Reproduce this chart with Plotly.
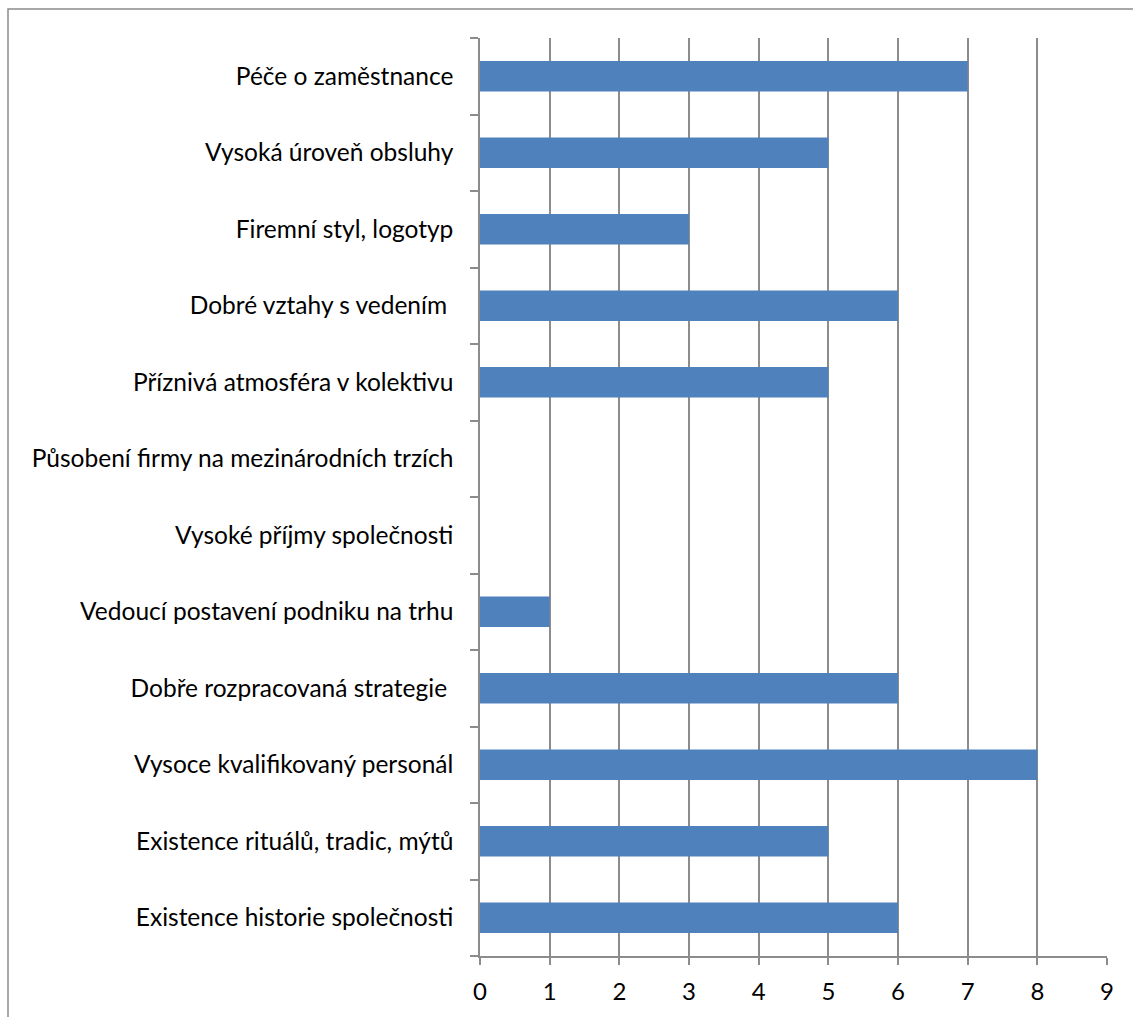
import plotly.graph_objects as go

# Categories listed bottom to top, as they appear along the y-axis
categories = [
    "Existence historie společnosti",
    "Existence rituálů, tradic, mýtů",
    "Vysoce kvalifikovaný personál",
    "Dobře rozpracovaná strategie\u00a0",
    "Vedoucí postavení podniku na trhu",
    "Vysoké příjmy společnosti",
    "Působení firmy na mezinárodních trzích",
    "Příznivá atmosféra v kolektivu",
    "Dobré vztahy s vedením\u00a0",
    "Firemní styl, logotyp",
    "Vysoká úroveň obsluhy",
    "Péče o zaměstnance",
]
counts = [6, 5, 8, 6, 1, 0, 0, 5, 6, 3, 5, 7]
x_ticks = list(range(0, 10))

W, H = 1133, 1017
ML, MR, MT, MB = 480, 26, 38, 59
FONT = "Lato"
GRID = "#8c8c8c"

fig = go.Figure(
    go.Bar(
        x=counts,
        y=categories,
        orientation="h",
        marker=dict(color="#4f81bd", line=dict(width=0)),
        width=0.4,
        hoverinfo="x+y",
    )
)

fig.update_xaxes(
    range=[0, 9],
    tickvals=x_ticks,
    ticktext=[str(v) for v in x_ticks],
    showgrid=True,
    gridcolor=GRID,
    gridwidth=1.5,
    zeroline=False,
    showline=True,
    linecolor=GRID,
    linewidth=1.5,
    ticks="outside",
    ticklen=7,
    tickwidth=1.5,
    tickcolor=GRID,
    tickfont=dict(family=FONT, size=24, color="#000000"),
    ticklabelstandoff=6,
)
fig.update_yaxes(
    type="category",
    categoryorder="array",
    categoryarray=categories,
    tickson="boundaries",
    showgrid=False,
    zeroline=False,
    showline=True,
    linecolor=GRID,
    linewidth=1.5,
    ticks="outside",
    ticklen=8,
    tickwidth=1.5,
    tickcolor=GRID,
    tickfont=dict(family=FONT, size=24.5, color="#000000"),
    ticklabelstandoff=20,
)

# Outer chart border (its right and bottom edges fall outside the page)
pw = W - ML - MR
ph = H - MT - MB
fig.add_shape(
    type="rect",
    xref="paper",
    yref="paper",
    x0=(8 - ML) / pw,
    x1=(W + 10 - ML) / pw,
    y0=-(H + 10 - (H - MB)) / ph,
    y1=(H - 9 - MB) / ph,
    line=dict(color="#8c8c8c", width=1.5),
    fillcolor="rgba(0,0,0,0)",
    layer="below",
)

fig.update_layout(
    width=W,
    height=H,
    margin=dict(l=ML, r=MR, t=MT, b=MB, pad=0),
    paper_bgcolor="#ffffff",
    plot_bgcolor="#ffffff",
    showlegend=False,
    bargap=0.6,
    font=dict(family=FONT, color="#000000"),
)

fig.write_html("out.html")
